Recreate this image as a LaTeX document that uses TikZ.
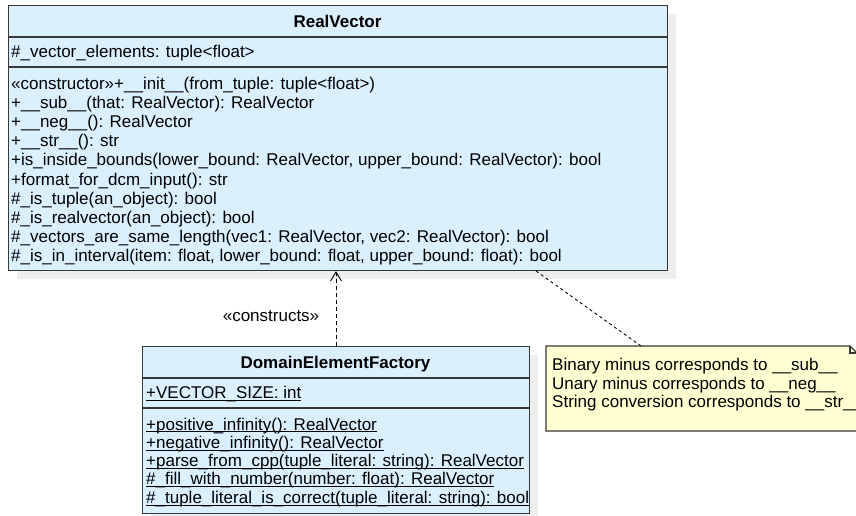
\documentclass[tikz,border=0pt]{standalone}
\usepackage{fontspec}
\setmainfont{Liberation Sans}
\usetikzlibrary{arrows.meta}
\definecolor{clsfill}{RGB}{218,240,255}
\definecolor{notefill}{RGB}{255,255,210}
\definecolor{edge}{RGB}{55,55,55}
\definecolor{shadowgray}{RGB}{238,238,238}
\newcommand{\stul}[1]{\setbox0\hbox{#1}\rlap{\rule[-2.2pt]{\wd0}{0.9pt}}\box0}
\tikzset{
  clsbox/.style={draw=edge, line width=1.2pt, fill=clsfill, inner sep=0pt, anchor=north west},
  sepline/.style={draw=edge, line width=1.2pt},
  shadowbox/.style={fill=shadowgray},
  txt/.style={anchor=base west, inner sep=0pt, font=\fontsize{17}{19}\selectfont},
  ctxt/.style={anchor=base, inner sep=0pt, font=\fontsize{17}{19}\selectfont\bfseries},
  deparrow/.style={draw=black, line width=0.9pt, dash pattern=on 4pt off 3pt, -{Straight Barb[length=9pt,width=11pt,line width=0.9pt]}},
  notelink/.style={draw=black, line width=0.9pt, dash pattern=on 3pt off 3pt},
  noteshape/.style={draw=edge, line width=1.2pt, fill=notefill}
}
\begin{document}
\begin{tikzpicture}[x=1pt,y=-1pt]
\useasboundingbox (0,0) rectangle (856,515);
\clip (0,0) rectangle (856,515);
% shadows
\fill[shadowbox] (17,14) rectangle (676,279);
\fill[shadowbox] (151,355) rectangle (538,522);
% RealVector class
\node[clsbox, minimum width=659pt, minimum height=265pt] (rv) at (8,5) {};
\draw[sepline] (8,37) -- (667,37);
\draw[sepline] (8,67) -- (667,67);
\node[ctxt] (rvname) at (337.5,27) {RealVector};
\node[txt] (rvattr) at (11,57.5) {\#\_vector\_elements: tuple<float>};
\foreach \t [count=\i from 0] in {
  {«constructor»+\_\_init\_\_(from\_tuple: tuple<float>)},
  {+\_\_sub\_\_(that: RealVector): RealVector},
  {+\_\_neg\_\_(): RealVector},
  {+\_\_str\_\_(): str},
  {+is\_inside\_bounds(lower\_bound: RealVector, upper\_bound: RealVector): bool},
  {+format\_for\_dcm\_input(): str},
  {\#\_is\_tuple(an\_object): bool},
  {\#\_is\_realvector(an\_object): bool},
  {\#\_vectors\_are\_same\_length(vec1: RealVector, vec2: RealVector): bool},
  {\#\_is\_in\_interval(item: float, lower\_bound: float, upper\_bound: float): bool}}
  \node[txt] (rvm\i) at (11,89.5+19.1*\i) {\t};
% DomainElementFactory class
\node[clsbox, minimum width=387pt, minimum height=167pt] (def) at (142,346) {};
\draw[sepline] (142,378) -- (529,378);
\draw[sepline] (142,408) -- (529,408);
\node[ctxt] (defname) at (335.5,368) {DomainElementFactory};
\node[txt] (defattr) at (146,398.5) {\stul{+VECTOR\_SIZE: int}};
\foreach \t [count=\i from 0] in {
  {+positive\_infinity(): RealVector},
  {+negative\_infinity(): RealVector},
  {+parse\_from\_cpp(tuple\_literal: string): RealVector},
  {\#\_fill\_with\_number(number: float): RealVector},
  {\#\_tuple\_literal\_is\_correct(tuple\_literal: string): bool}}
  \node[txt] (defm\i) at (146,430+18.3*\i) {\stul{\t}};
% note
\node[inner sep=0pt, minimum width=311pt, minimum height=85pt, anchor=north west] (note) at (546,346) {};
\draw[noteshape] (546,346) -- (850,346) -- (857,353) -- (857,431) -- (546,431) -- cycle;
\draw[sepline] (850,346) -- (850,353) -- (857,353);
\node[txt] (n1) at (552,370.5) {Binary minus corresponds to \_\_sub\_\_};
\node[txt] (n2) at (552,389) {Unary minus corresponds to \_\_neg\_\_};
\node[txt] (n3) at (552,407.5) {String conversion corresponds to \_\_str\_\_};
% connectors
\coordinate (ax) at (336,0);
\draw[deparrow] (ax |- def.north) -- (ax |- rv.south);
\node[anchor=base, inner sep=0pt, font=\fontsize{17}{19}\selectfont] (lbl) at (271,321) {«constructs»};
\coordinate (rvn) at (536,271);
\coordinate (nt) at (641,346);
\draw[notelink] (rvn) -- (nt);
\end{tikzpicture}
\end{document}
